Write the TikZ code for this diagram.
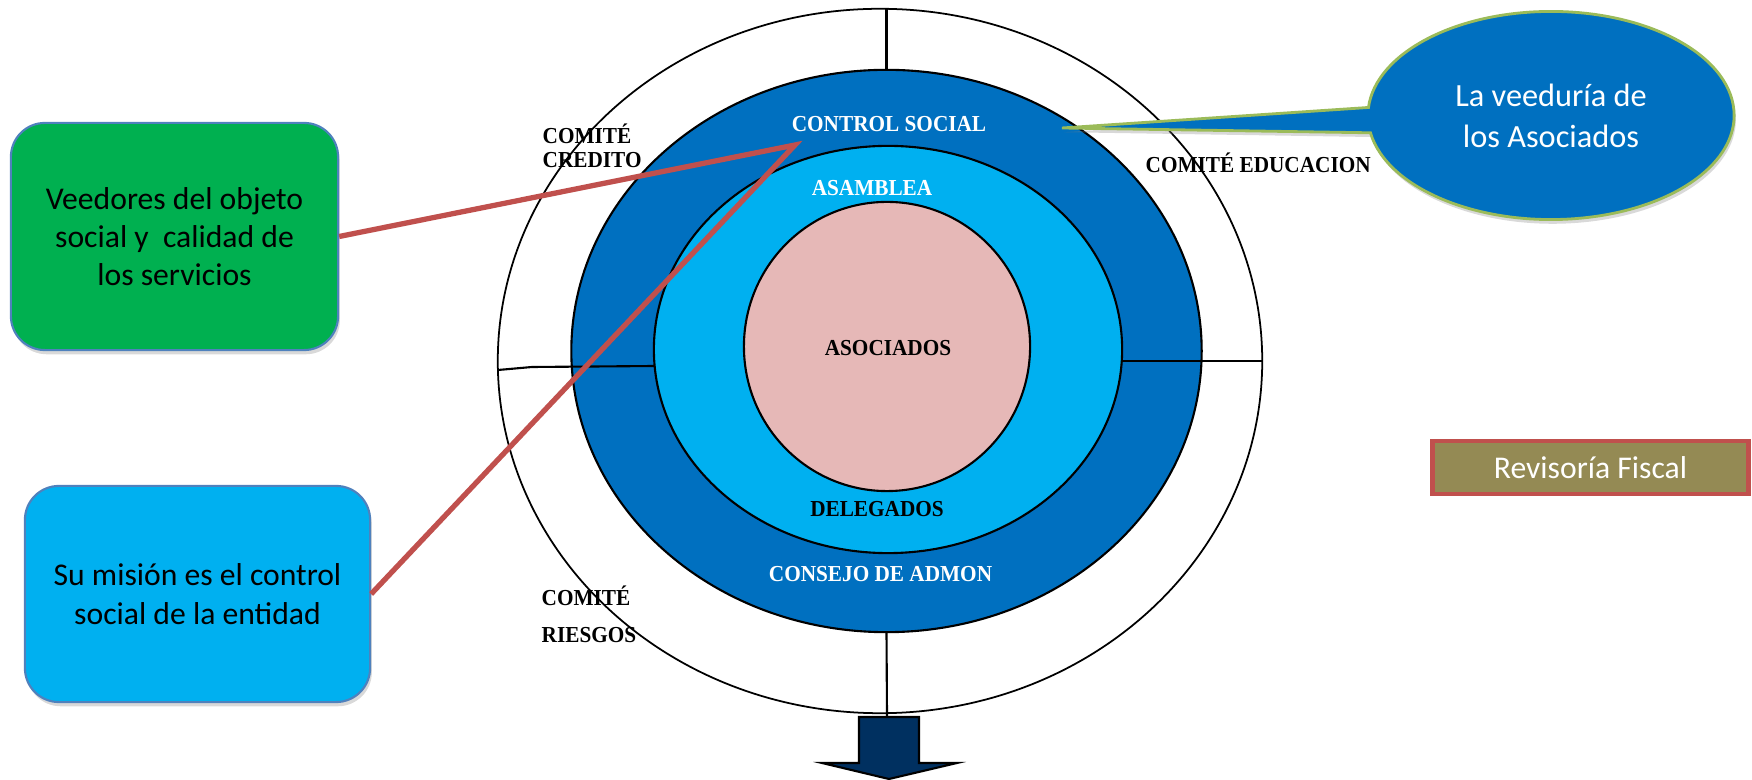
\documentclass[tikz,border=0pt]{standalone}
\usepackage{fontspec}
\setmainfont{Liberation Serif}
\newfontfamily\lblfont{Liberation Serif}[FakeStretch=0.93]
\newfontfamily\boxfont{Carlito}
\usetikzlibrary{shapes.geometric,shapes.callouts,shadows}
\definecolor{azul}{HTML}{0070C0}
\definecolor{celeste}{HTML}{00B0F0}
\definecolor{rosa}{HTML}{E6B8B7}
\definecolor{verde}{HTML}{00B050}
\definecolor{oliva}{HTML}{948A54}
\definecolor{rojo}{HTML}{C0504D}
\definecolor{pasto}{HTML}{9BBB59}
\definecolor{bordeazul}{HTML}{4F81BD}
\definecolor{marino}{RGB}{0,48,96}
\tikzset{anillo/.style={ellipse, draw, line width=0.6pt, inner sep=0pt},
	lbl/.style={font=\lblfont\bfseries\fontsize{6.5}{7.1}\selectfont, inner sep=0pt},
	sombra/.style={drop shadow={opacity=0.3, shadow xshift=0.5pt, shadow yshift=-1.2pt}},
	caja/.style={rounded corners=0.34cm, draw=bordeazul, line width=0.6pt, align=center,
		font=\boxfont\fontsize{9}{10.9}\selectfont, sombra},
	linea/.style={draw=rojo, line width=1.5pt}}

\begin{document}
\begin{tikzpicture}[x=0.01cm, y=-0.01cm]
	\useasboundingbox (0,0) rectangle (1752,780);
	% anillos
	\node[anillo, line width=0.5pt, fill=white, minimum width=7.64cm, minimum height=7.04cm] (exterior) at (880,361){};
	\node[anillo, fill=azul, minimum width=6.30cm, minimum height=5.62cm] (consejo) at (886.5,351){};
	\draw[line width=0.6pt] (498,370) -- (532,367) -- (655,366);
	\draw[line width=0.6pt] (1122,361) -- (exterior.east);
	\draw[line width=0.6pt] (consejo.north) -- (consejo.north |- exterior.north);
	\node[anillo, fill=celeste, minimum width=4.68cm, minimum height=4.07cm] (asamblea) at (888,349.5){};
	\node[anillo, fill=rosa, minimum width=2.86cm, minimum height=2.89cm] (asociados) at (887,346.5){};
	% flecha de abajo
	\coordinate (flecha) at (887,717);
	\draw[line width=0.6pt] (consejo.south) -- (flecha);
	\draw[fill=marino, line width=0.6pt] (859,717) -- (919,717) -- (919,763) -- (957,763) -- (889,779)
		-- (822,763) -- (859,763) -- cycle;
	% textos de los anillos
	\node[lbl, text=white, anchor=base] (tcontrol) at (889,132){CONTROL SOCIAL};
	\node[lbl, text=white, anchor=base] (tasamblea) at (872,196){ASAMBLEA};
	\node[lbl, anchor=base] (tasociados) at (888,356){ASOCIADOS};
	\node[lbl, anchor=base] (tdelegados) at (877,517){DELEGADOS};
	\node[lbl, text=white, anchor=base] (tconsejo) at (880.5,582){CONSEJO DE ADMON};
	\node[lbl, anchor=base west, align=left] (credito) at (542,168){COMITÉ\\CREDITO};
	\node[lbl, anchor=base west, align=left] (riesgos) at (541,643){COMITÉ\\[3.7pt]RIESGOS};
	\node[lbl, anchor=base west] (educacion) at (1145,173){COMITÉ EDUCACION};
	% cajas
	\node[caja, fill=verde, minimum width=3.27cm, minimum height=2.27cm] (veedores) at (174.5,236.5)
		{Veedores del objeto\\social y\ \ calidad de\\los servicios};
	\node[caja, fill=celeste, minimum width=3.45cm, minimum height=2.16cm] (mision) at (197.5,594)
		{Su misión es el control\\social de la entidad};
	\node[ellipse callout, fill=azul, draw=pasto, line width=0.8pt, minimum width=3.66cm, minimum height=2.08cm,
		callout absolute pointer={(1062,128)}, callout pointer arc=14, text=white, align=center,
		font=\boxfont\fontsize{9.2}{11.6}\selectfont, sombra] (veeduria) at (1551,115.5)
		{La veeduría de\\los Asociados};
	\node[draw=rojo, line width=1.4pt, fill=oliva, minimum width=3.15cm, minimum height=0.53cm, text=white,
		font=\boxfont\fontsize{9}{11}\selectfont] (revisoria) at (1590.5,467.5){Revisoría Fiscal};
	% conector rojo
	\coordinate (punta) at (795,145);
	\draw[linea] (veedores.east) -- (punta) -- (mision.east);
\end{tikzpicture}
\end{document}
